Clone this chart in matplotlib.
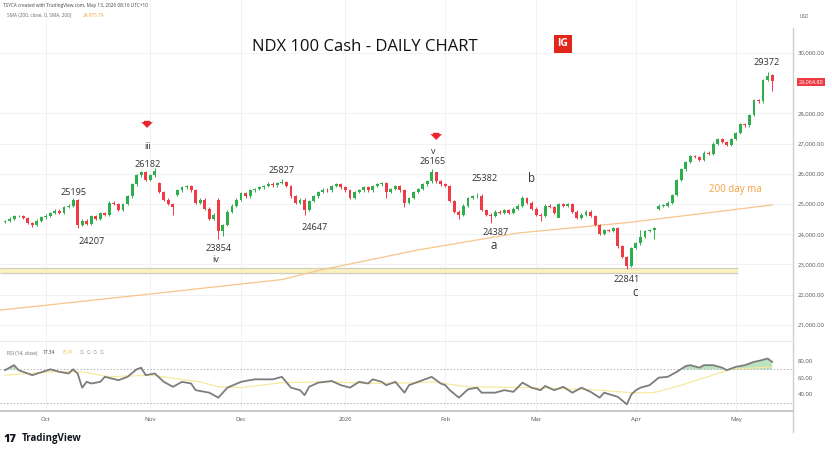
import matplotlib.pyplot as plt
import numpy as np

# daily closes by month, Sep 18 2025 - May 13 2026
sep_close = [24430, 24520, 24600, 24610, 24540, 24380, 24300, 24450, 24560]
oct_close = [24620, 24700, 24780, 24720, 24900, 24950, 25120, 24300, 24450, 24350,
             24600, 24500, 24700, 24650, 25050, 25000, 24800, 25000, 25250, 25650,
             25950, 26050, 25800]
nov_close = [25950, 26100, 25400, 25150, 25000, 24900, 25450, 25550, 25600, 25450,
             25050, 25150, 24850, 24500, 24650, 24100, 24300, 24750, 24950, 25150]
dec_close = [25350, 25250, 25450, 25500, 25550, 25600, 25680, 25620, 25700, 25720,
             25600, 25250, 25050, 25150, 24800, 25100, 25250, 25400, 25480, 25450,
             25600, 25650, 25550]
jan_close = [25450, 25200, 25400, 25450, 25550, 25450, 25600, 25650, 25700, 25400,
             25500, 25600, 25450, 25050, 25200, 25400, 25500, 25650, 25750, 26050,
             25750, 25650]
feb_close = [25600, 25100, 24750, 24650, 24950, 25200, 25250, 25280, 24800, 24650,
             24600, 24750, 24700, 24800, 24700, 24850, 24950, 25200, 25050, 24850]
mar_close = [24650, 24600, 24950, 24900, 24700, 25000, 24950, 25000, 24750, 24550,
             24650, 24750, 24600, 24300, 24000, 24150, 24100, 24200, 23600, 23250,
             22950, 23550]
apr_close = [23700, 23900, 24100, 24150, 24200, 24950, 24950, 25050, 25300, 25800,
             26150, 26400, 26600, 26550, 26450, 26700, 26650, 27000, 27150, 27050,
             26950, 27150]
may_close = [27350, 27650, 27600, 27950, 28450, 28400, 29100, 29250, 29064.8]

month_labels = ['Oct', 'Nov', 'Dec', '2026', 'Feb', 'Mar', 'Apr', 'May']
price_ticks = [21000, 22000, 23000, 24000, 25000, 26000, 27000, 28000, 30000]
last_price = 29064.80

first_open = 24400
gap_opens = {16: 25150, 34: 25700, 38: 25300, 47: 25150, 122: 24550, 144: 24850, 169: 29280}
wick_highs = {15: 25195, 16: 25160, 33: 26182, 61: 25827, 94: 26165, 95: 26050,
              104: 25382, 114: 25250, 140: 24150, 168: 29372}
wick_lows = {6: 24230, 16: 24207, 37: 24650, 47: 23854, 48: 23950, 66: 24647, 84: 25200,
             88: 24900, 100: 24500, 107: 24387, 118: 24450, 122: 24600, 137: 22841,
             143: 23850, 169: 28750}

# 200 day SMA
sma_idx = [-1, 30, 61, 69, 91, 113, 138, 169]
sma_val = [21490, 21990, 22500, 22800, 23480, 24040, 24400, 24970]

band_lo, band_hi, band_end = 22720, 22880, 161.5

# RSI(14) and its MA
rsi_idx = [0, 2, 3, 6, 10, 12, 14, 15, 16, 17, 18, 19, 21, 22, 25, 27, 29, 30, 31, 33,
           35, 37, 39, 41, 42, 45, 47, 49, 52, 55, 59, 61, 63, 65, 66, 67, 69, 72, 74,
           76, 78, 80, 81, 83, 84, 86, 88, 89, 91, 94, 96, 97, 98, 100, 102, 104, 105,
           108, 110, 112, 114, 116, 118, 119, 121, 123, 125, 127, 129, 131, 132, 135,
           137, 138, 139, 140, 142, 144, 146, 148, 150, 151, 153, 154, 156, 158, 159,
           161, 163, 165, 166, 168, 169]
rsi_val = [69, 75, 69, 63, 70, 67, 65, 70, 65, 48, 55, 53, 55, 61, 57, 61, 70, 72, 63, 65,
           55, 49, 55, 53, 45, 42, 36, 48, 55, 58, 58, 61, 48, 45, 39, 49, 54, 56, 51,
           48, 55, 53, 58, 55, 51, 55, 42, 51, 55, 61, 53, 51, 45, 36, 46, 48, 42,
           42, 45, 43, 54, 48, 45, 50, 45, 49, 42, 48, 43, 36, 42, 37,
           28, 40, 45, 48, 51, 60, 61, 67, 74, 75, 72, 75, 75, 72, 69,
           73, 75, 79, 80, 83, 79]
rsi_ma_idx = [0, 10, 17, 23, 32, 43, 47, 52, 61, 72, 80, 91, 94, 102, 116, 131, 138, 143,
              149, 157, 160, 169]
rsi_ma_val = [63, 67, 67, 61, 63, 55, 49, 48, 54, 55, 53, 54, 55, 49, 48, 45, 42, 42,
              51, 65, 70, 73]

closes = np.array(sep_close + oct_close + nov_close + dec_close + jan_close +
                  feb_close + mar_close + apr_close + may_close, dtype=float)
n = len(closes)
idx = np.arange(n)
opens = np.r_[first_open, closes[:-1]]
for k, v in gap_opens.items():
    opens[k] = v
highs = np.maximum(opens, closes) + 40
lows = np.minimum(opens, closes) - 40
for k, v in wick_highs.items():
    highs[k] = v
for k, v in wick_lows.items():
    lows[k] = v

months = [sep_close, oct_close, nov_close, dec_close, jan_close, feb_close, mar_close, apr_close]
month_pos = np.cumsum([len(m) for m in months])

up_col, dn_col = '#2fae4e', '#ef3b45'
grid_col = '#eef0f5'
txt_col = '#333333'
W, H = 832, 453
plt.rcParams['font.family'] = ['Open Sans', 'DejaVu Sans']

fig = plt.figure(figsize=(W / 100, H / 100), dpi=100)
ax = fig.add_axes([0, (H - 340) / H, 793 / W, 340 / H])
ax_r = fig.add_axes([0, (H - 411) / H, 793 / W, 70 / H])

xlim = (-1.1, 173.6)

# --- price pane
cols = np.where(closes >= opens, up_col, dn_col)
body = np.maximum(np.abs(closes - opens), 18)
ax.vlines(idx, lows, highs, colors=cols, lw=0.7, zorder=3)
ax.bar(idx, body, bottom=np.minimum(opens, closes), width=0.64, color=cols, zorder=4)

ax.plot(sma_idx, sma_val, color='#f7c58a', lw=0.9, zorder=2)
bx = [xlim[0], band_end]
ax.fill_between(bx, band_lo, band_hi, color='#fbf1bf', lw=0, zorder=1)
ax.hlines([band_lo, band_hi], bx[0], bx[1], colors='#cfcfc0', lw=0.9, zorder=1)

ax.set_xlim(*xlim)
ax.set_ylim(20500, 31754)
ax.set_yticks(price_ticks)
ax.set_yticklabels([f'{v:,.2f}' for v in price_ticks])
ax.yaxis.tick_right()
ax.tick_params(axis='y', length=0, pad=3.5, labelsize=4.3, labelcolor='#555555')
ax.set_xticks(month_pos)
ax.tick_params(axis='x', length=0, labelbottom=False)
ax.grid(True, color=grid_col, lw=0.6)
ax.set_axisbelow(True)
for s in ax.spines.values():
    s.set_visible(False)

labels = [(15, 25366, '25195'), (19, 23744, '24207'), (31.5, 26293, '26182'),
          (31.5, 26889, 'iii'), (61, 26094, '25827'), (68.3, 24240, '24647'),
          (47, 23545, '23854'), (46.3, 23148, 'iv'), (94.3, 26723, 'v'),
          (94.3, 26392, '26165'), (105.7, 25862, '25382'), (108, 24042, '24387'),
          (167.8, 29669, '29372'), (137, 22519, '22841')]
for xi, yv, t in labels:
    ax.text(xi, yv, t, ha='center', va='center', fontsize=6.6, color=txt_col, zorder=6)
for xi, yv, t in [(107.7, 23612, 'a'), (116, 25862, 'b'), (138.8, 22056, 'c')]:
    ax.text(xi, yv, t, ha='center', va='center', fontsize=8.3, color=txt_col, zorder=6)
ax.text(160.8, 25498, '200 day ma', ha='center', va='center', fontsize=7, color='#f4a03c')

for xi, yv in [(31.3, 27617), (95, 27220)]:
    ax.annotate('', xy=(xi, yv - 190), xytext=(xi, yv + 230),
                arrowprops=dict(arrowstyle='simple,head_width=0.7,head_length=0.35,tail_width=0.38',
                                mutation_scale=12, color='#e8262e', lw=0))

# --- RSI pane
ax_r.plot(rsi_ma_idx, rsi_ma_val, color='#f6eaa0', lw=0.9, zorder=2)
ax_r.plot(rsi_idx, rsi_val, color='#7d7d7d', lw=1.3, zorder=3)
rv = np.array(rsi_val, dtype=float)
ax_r.fill_between(rsi_idx, 70, rv, where=rv > 70, interpolate=True, color='#b9e3bf', lw=0, zorder=1)
ax_r.hlines([70, 30], xlim[0], xlim[1], colors='#9a9a9a', lw=0.6, linestyles=(0, (1.5, 2.5)))
ax_r.set_xlim(*xlim)
ax_r.set_ylim(20, 104)
ax_r.set_yticks([40, 60, 80])
ax_r.set_yticklabels(['40.00', '60.00', '80.00'])
ax_r.yaxis.tick_right()
ax_r.tick_params(axis='y', length=0, pad=3.5, labelsize=4.3, labelcolor='#555555')
ax_r.set_xticks(month_pos)
ax_r.set_xticklabels(month_labels)
ax_r.tick_params(axis='x', length=0, pad=4, labelsize=4.3, labelcolor='#555555')
ax_r.grid(True, axis='x', color=grid_col, lw=0.6)
for s in ax_r.spines.values():
    s.set_visible(False)

# frame lines
fig.add_artist(plt.Line2D([793 / W, 793 / W], [1 - 28 / H, 1 - 432 / H], color='#cfcfcf', lw=1))
fig.add_artist(plt.Line2D([0, 793 / W], [1 - 411 / H, 1 - 411 / H], color='#c4c4c4', lw=1.3))
fig.add_artist(plt.Line2D([0, 793 / W], [1 - 340.5 / H, 1 - 340.5 / H], color='#ececec', lw=0.8))

# texts
fig.text(365 / W, 1 - 47 / H, 'NDX 100 Cash - DAILY CHART', ha='center', va='center',
         fontsize=12, color='#111111')
fig.text(563 / W, 1 - 44 / H, 'IG', ha='center', va='center', fontsize=7.5, fontweight='bold',
         color='white', bbox=dict(boxstyle='square,pad=0.35', fc='#e1261c', ec='none'))
fig.text(3 / W, 1 - 5 / H, 'TSYCA created with TradingView.com, May 13, 2026 08:16 UTC+10',
         fontsize=3.4, color='#444444', va='center')
fig.text(7 / W, 1 - 15 / H, 'SMA (200, close, 0, SMA, 200)', fontsize=3.4, color='#666666', va='center')
fig.text(83 / W, 1 - 15 / H, '24,975.79', fontsize=3.4, color='#f4a03c', va='center')
fig.text(800 / W, 1 - 17 / H, 'USD', fontsize=3.4, color='#555555', va='center')
fig.text(811 / W, 1 - 82 / H, f'{last_price:,.2f}', ha='center', va='center', fontsize=4,
         color='white', bbox=dict(boxstyle='square,pad=0.25', fc='#ef3b45', ec='none'))
fig.text(7 / W, 1 - 353 / H, 'RSI (14, close)', fontsize=3.4, color='#666666', va='center')
fig.text(43 / W, 1 - 353 / H, '77.34', fontsize=3.4, color='#333333', va='center')
fig.text(62 / W, 1 - 353 / H, '75.41', fontsize=3.4, color='#e8c53a', va='center')
fig.text(80 / W, 1 - 353 / H, '\u2205  \u2205  \u2205  \u2205', fontsize=3.4, color='#888888', va='center')
fig.text(3 / W, 1 - 439 / H, '17', fontsize=8, fontweight='heavy', color='#131722', va='center')
fig.text(22 / W, 1 - 439 / H, 'TradingView', fontsize=7, fontweight='bold', color='#131722', va='center')

fig.savefig('out.png', dpi=100, facecolor='white')
